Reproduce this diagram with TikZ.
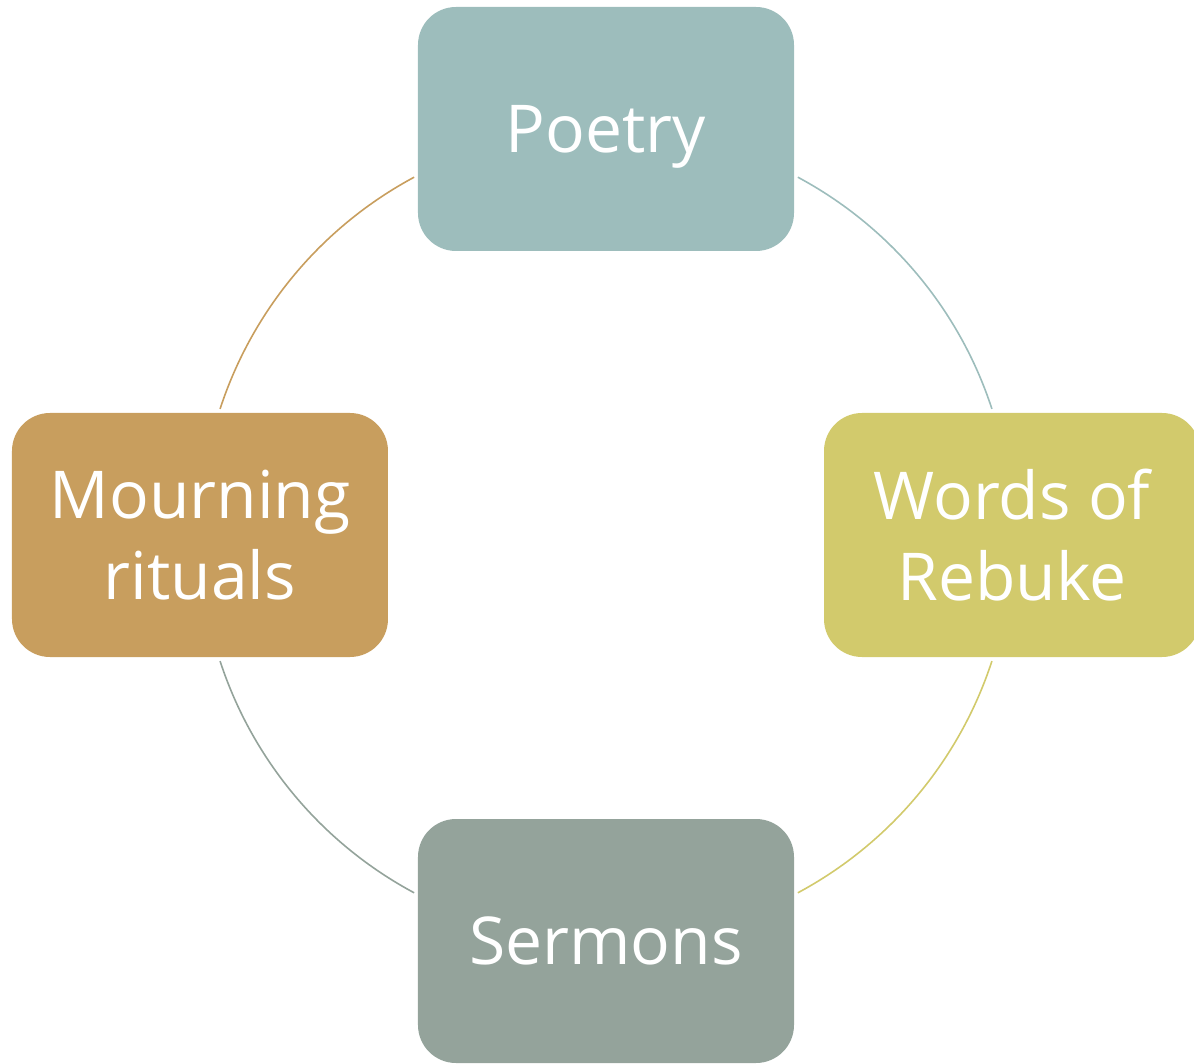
\documentclass[tikz,border=0pt]{standalone}
\usepackage{fontspec}
\setmainfont{Open Sans}
\definecolor{poetry}{HTML}{9DBDBC}
\definecolor{rebuke}{HTML}{D2CA6C}
\definecolor{sermons}{HTML}{94A39B}
\definecolor{mourning}{HTML}{C89E5E}
\begin{document}
\begin{tikzpicture}[x=1pt, y=1pt,
        stage/.style = {rectangle, rounded corners=38pt, minimum width=376pt, minimum height=244pt,
                        inner sep=0pt, text=white, align=center, font=\fontsize{66}{81}\selectfont},
        link/.style = {line width=1.6pt}]
        \useasboundingbox (-606,-528) rectangle (588,535);
        \node[stage, fill=poetry, text depth=0pt] (poetry) at (0,406) {Poetry};
        \node[stage, fill=rebuke] (rebuke) at (406,0) {Words of\\Rebuke};
        \node[stage, fill=sermons] (sermons) at (0,-406) {Sermons};
        \node[stage, fill=mourning] (mourning) at (-406,0) {Mourning\\rituals};
        \coordinate (poetry-out) at (61.8:406);
        \coordinate (rebuke-out) at (-18.1:406);
        \coordinate (sermons-out) at (-118.2:406);
        \coordinate (mourning-out) at (161.9:406);
        \draw[link, draw=poetry] (poetry-out) arc[start angle=61.8, end angle=18.1, radius=406];
        \draw[link, draw=rebuke] (rebuke-out) arc[start angle=-18.1, end angle=-61.8, radius=406];
        \draw[link, draw=sermons] (sermons-out) arc[start angle=-118.2, end angle=-161.9, radius=406];
        \draw[link, draw=mourning] (mourning-out) arc[start angle=161.9, end angle=118.2, radius=406];
    \end{tikzpicture}
\end{document}
